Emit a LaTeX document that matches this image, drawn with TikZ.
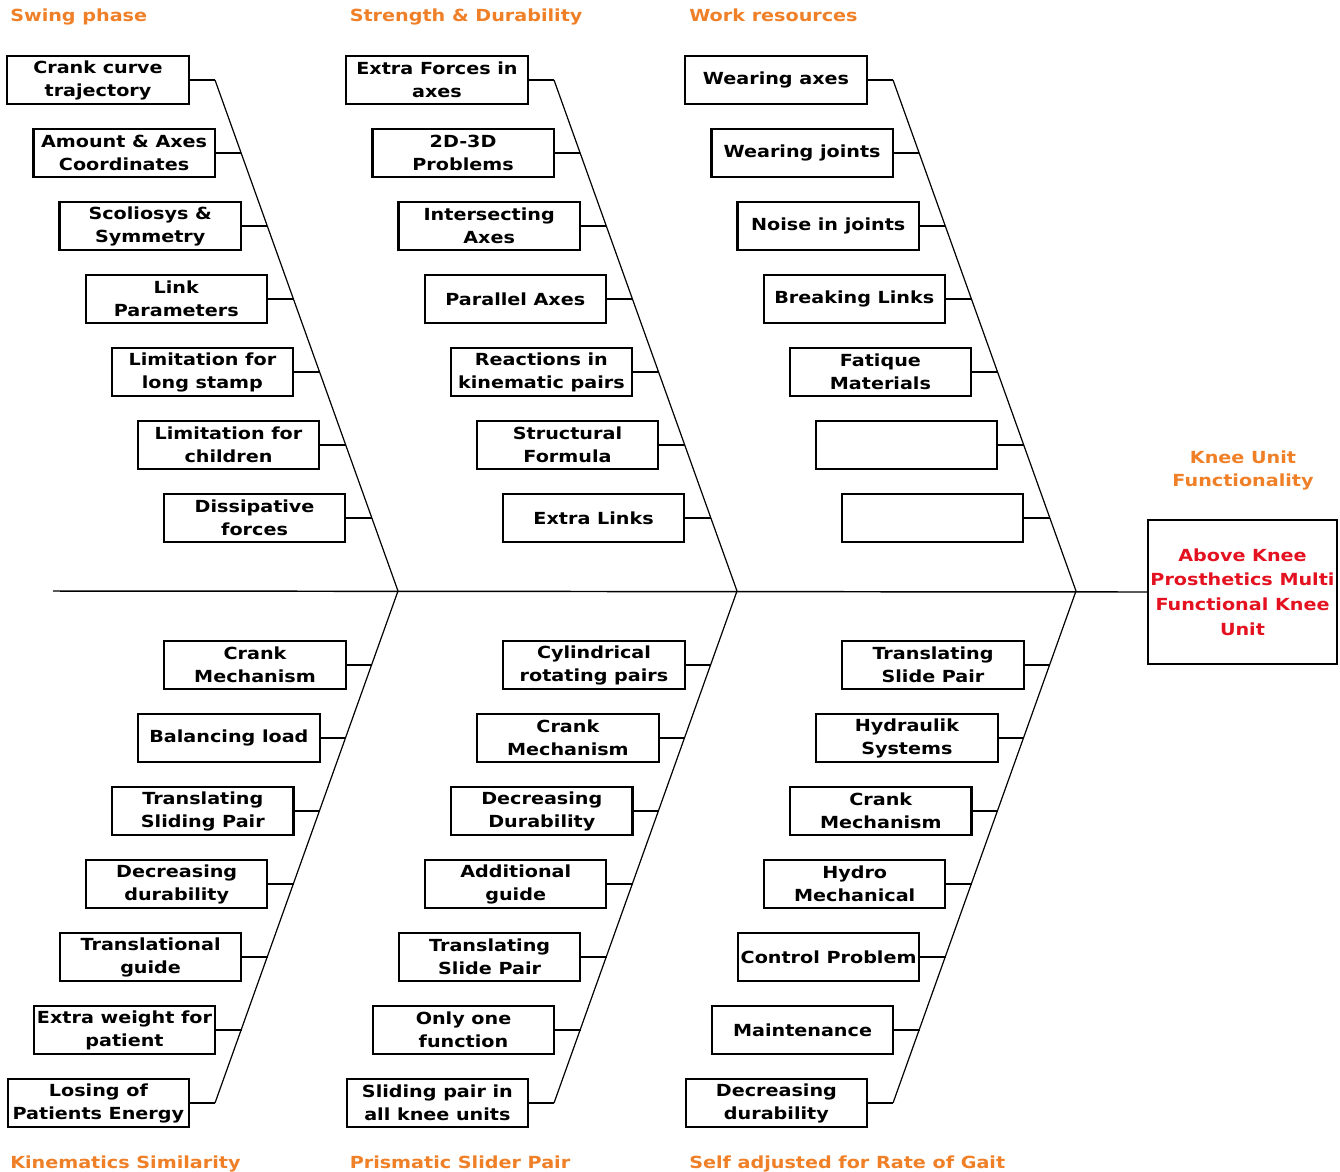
\documentclass[tikz,border=0pt]{standalone}
\usepackage{fontspec}
\newfontfamily\fbfont{DejaVu Sans Bold}[FakeStretch=1.15]
\definecolor{headorange}{RGB}{240,128,40}
\definecolor{effectred}{RGB}{228,18,32}
\begin{document}
\begin{tikzpicture}[x=0.75pt,y=-0.75pt,
  cause/.style={draw, line width=1.6pt, minimum width=136pt, minimum height=35.5pt,
    inner sep=0pt, align=center, font=\fbfont\fontsize{12.5pt}{17.25pt}\selectfont},
  rib/.style={line width=0.9pt},
  twig/.style={line width=1.3pt},
  spine/.style={line width=1.1pt},
  header/.style={anchor=base west, inner sep=0pt, text=headorange,
    font=\fbfont\fontsize{12.5pt}{17.25pt}\selectfont},
  effect/.style={draw, line width=1.6pt, minimum width=141.5pt, minimum height=108.5pt,
    inner sep=0pt, align=center, text=effectred,
    font=\fbfont\fontsize{12.5pt}{18.6pt}\selectfont}]

\useasboundingbox (0,0) rectangle (1340,1172);
\fill[white] (0,0) rectangle (1340,1172);

% ---------- effect ----------
\node[effect] (effect) at (1242.5,592) {Above Knee\\Prosthetics Multi\\Functional Knee\\Unit};
\node[header, anchor=center, align=center] (efftitle) at (1243,470) {Knee Unit\\Functionality};

% ---------- spine ----------
\coordinate (tail) at (53,591);
\draw[spine] (tail) -- (effect.west);

% ---------- ribs (three bones) ----------
\foreach \c in {0,1,2}{
  \coordinate (apex\c) at ({398+339*\c},591);
  \coordinate (top\c) at ({215+339*\c},80);
  \coordinate (bot\c) at ({215+339*\c},1103);
  \draw[rib] (top\c) -- (apex\c) -- (bot\c);
}

% ---------- category headers ----------
\node[header] (h0) at (10,21) {Swing phase};
\node[header] (h1) at (349.5,21) {Strength \& Durability};
\node[header] (h2) at (689,21) {Work resources};
\node[header] (f0) at (10,1168) {Kinematics Similarity};
\node[header] (f1) at (349.5,1168) {Prismatic Slider Pair};
\node[header] (f2) at (689,1168) {Self adjusted for Rate of Gait};

% ---------- upper causes, column 0 ----------
\foreach \t [count=\i from 0] in {{Crank curve\\trajectory},{Amount \& Axes\\Coordinates},
  {Scoliosys \&\\Symmetry},{Link\\Parameters},{Limitation for\\long stamp},
  {Limitation for\\children},{Dissipative\\forces}}{
  \node[cause] (ua\i) at ({98+26.1*\i},{80+73*\i}) {\t};
  \coordinate (pa\i) at ({215+26.1*\i},{80+73*\i});
  \draw[twig] (ua\i.east) -- (pa\i);
}
% ---------- upper causes, column 1 ----------
\foreach \t [count=\i from 0] in {{Extra Forces in\\axes},{2D-3D\\Problems},
  {Intersecting\\Axes},{Parallel Axes},{Reactions in\\kinematic pairs},
  {Structural\\Formula},{Extra Links}}{
  \node[cause] (ub\i) at ({437+26.1*\i},{80+73*\i}) {\t};
  \coordinate (pb\i) at ({554+26.1*\i},{80+73*\i});
  \draw[twig] (ub\i.east) -- (pb\i);
}
% ---------- upper causes, column 2 ----------
\foreach \t [count=\i from 0] in {{Wearing axes},{Wearing joints},
  {Noise in joints},{Breaking Links},{Fatique\\Materials},{},{}}{
  \node[cause] (uc\i) at ({776+26.1*\i},{80+73*\i}) {\t};
  \coordinate (pc\i) at ({893+26.1*\i},{80+73*\i});
  \draw[twig] (uc\i.east) -- (pc\i);
}

% ---------- lower causes, column 0 ----------
\foreach \t [count=\j from 0] in {{Crank\\Mechanism},{Balancing load},
  {Translating\\Sliding Pair},{Decreasing\\durability},{Translational\\guide},
  {Extra weight for\\patient},{Losing of\\Patients Energy}}{
  \node[cause] (la\j) at ({255-26.1*\j},{665+73*\j}) {\t};
  \coordinate (qa\j) at ({372-26.1*\j},{665+73*\j});
  \draw[twig] (la\j.east) -- (qa\j);
}
% ---------- lower causes, column 1 ----------
\foreach \t [count=\j from 0] in {{Cylindrical\\rotating pairs},{Crank\\Mechanism},
  {Decreasing\\Durability},{Additional\\guide},{Translating\\Slide Pair},
  {Only one\\function},{Sliding pair in\\all knee units}}{
  \node[cause] (lb\j) at ({594-26.1*\j},{665+73*\j}) {\t};
  \coordinate (qb\j) at ({711-26.1*\j},{665+73*\j});
  \draw[twig] (lb\j.east) -- (qb\j);
}
% ---------- lower causes, column 2 ----------
\foreach \t [count=\j from 0] in {{Translating\\Slide Pair},{Hydraulik\\Systems},
  {Crank\\Mechanism},{Hydro\\Mechanical},{Control Problem},
  {Maintenance},{Decreasing\\durability}}{
  \node[cause] (lc\j) at ({933-26.1*\j},{665+73*\j}) {\t};
  \coordinate (qc\j) at ({1050-26.1*\j},{665+73*\j});
  \draw[twig] (lc\j.east) -- (qc\j);
}
\end{tikzpicture}
\end{document}
